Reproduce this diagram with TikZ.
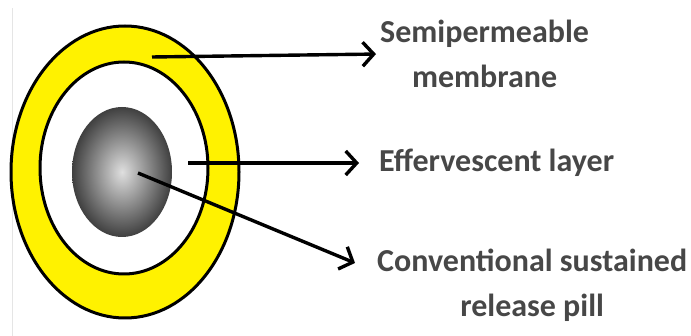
\documentclass[tikz,border=0pt]{standalone}
\usepackage{fontspec}
\setmainfont{Carlito}
\usetikzlibrary{arrows.meta}

\tikzset{
  lbl/.style={anchor=west, align=center, text=black!72, inner sep=0pt,
    font=\fontsize{32}{45}\selectfont\bfseries},
  pointer/.style={line width=3.4pt,
    -{Straight Barb[length=11pt,width=24pt,line width=3.4pt]}},
}

\begin{document}
\begin{tikzpicture}[x=1pt,y=-1pt]
\useasboundingbox (0,0) rectangle (691,336);
\draw[gray!20, line width=1pt] (12,8) -- (12,336);

% tablet
\draw[line width=3pt, fill=yellow] (125,172) ellipse [x radius=114, y radius=146];
\draw[line width=3pt, fill=white] (124,168) ellipse [x radius=84, y radius=106];
\shade[inner color=gray!25, outer color=black!75] (122,172) ellipse [x radius=50, y radius=65];

\coordinate (memb) at (152,57);
\coordinate (eff) at (188,163);
\coordinate (core) at (138,173);
\coordinate (pilltip) at (355,263);

\node[lbl] (semi) at (380,54) {Semipermeable\\membrane};
\node[lbl] (layer) at (379,163) {Effervescent layer};
\node[lbl] (pill) at (377,285) {Conventional sustained\\release pill};

\draw[pointer, shorten >=4pt] (memb) -- (semi.west);
\draw[pointer, shorten >=20pt] (eff) -- (layer.west);
\draw[pointer] (core) -- (pilltip);
\end{tikzpicture}
\end{document}
